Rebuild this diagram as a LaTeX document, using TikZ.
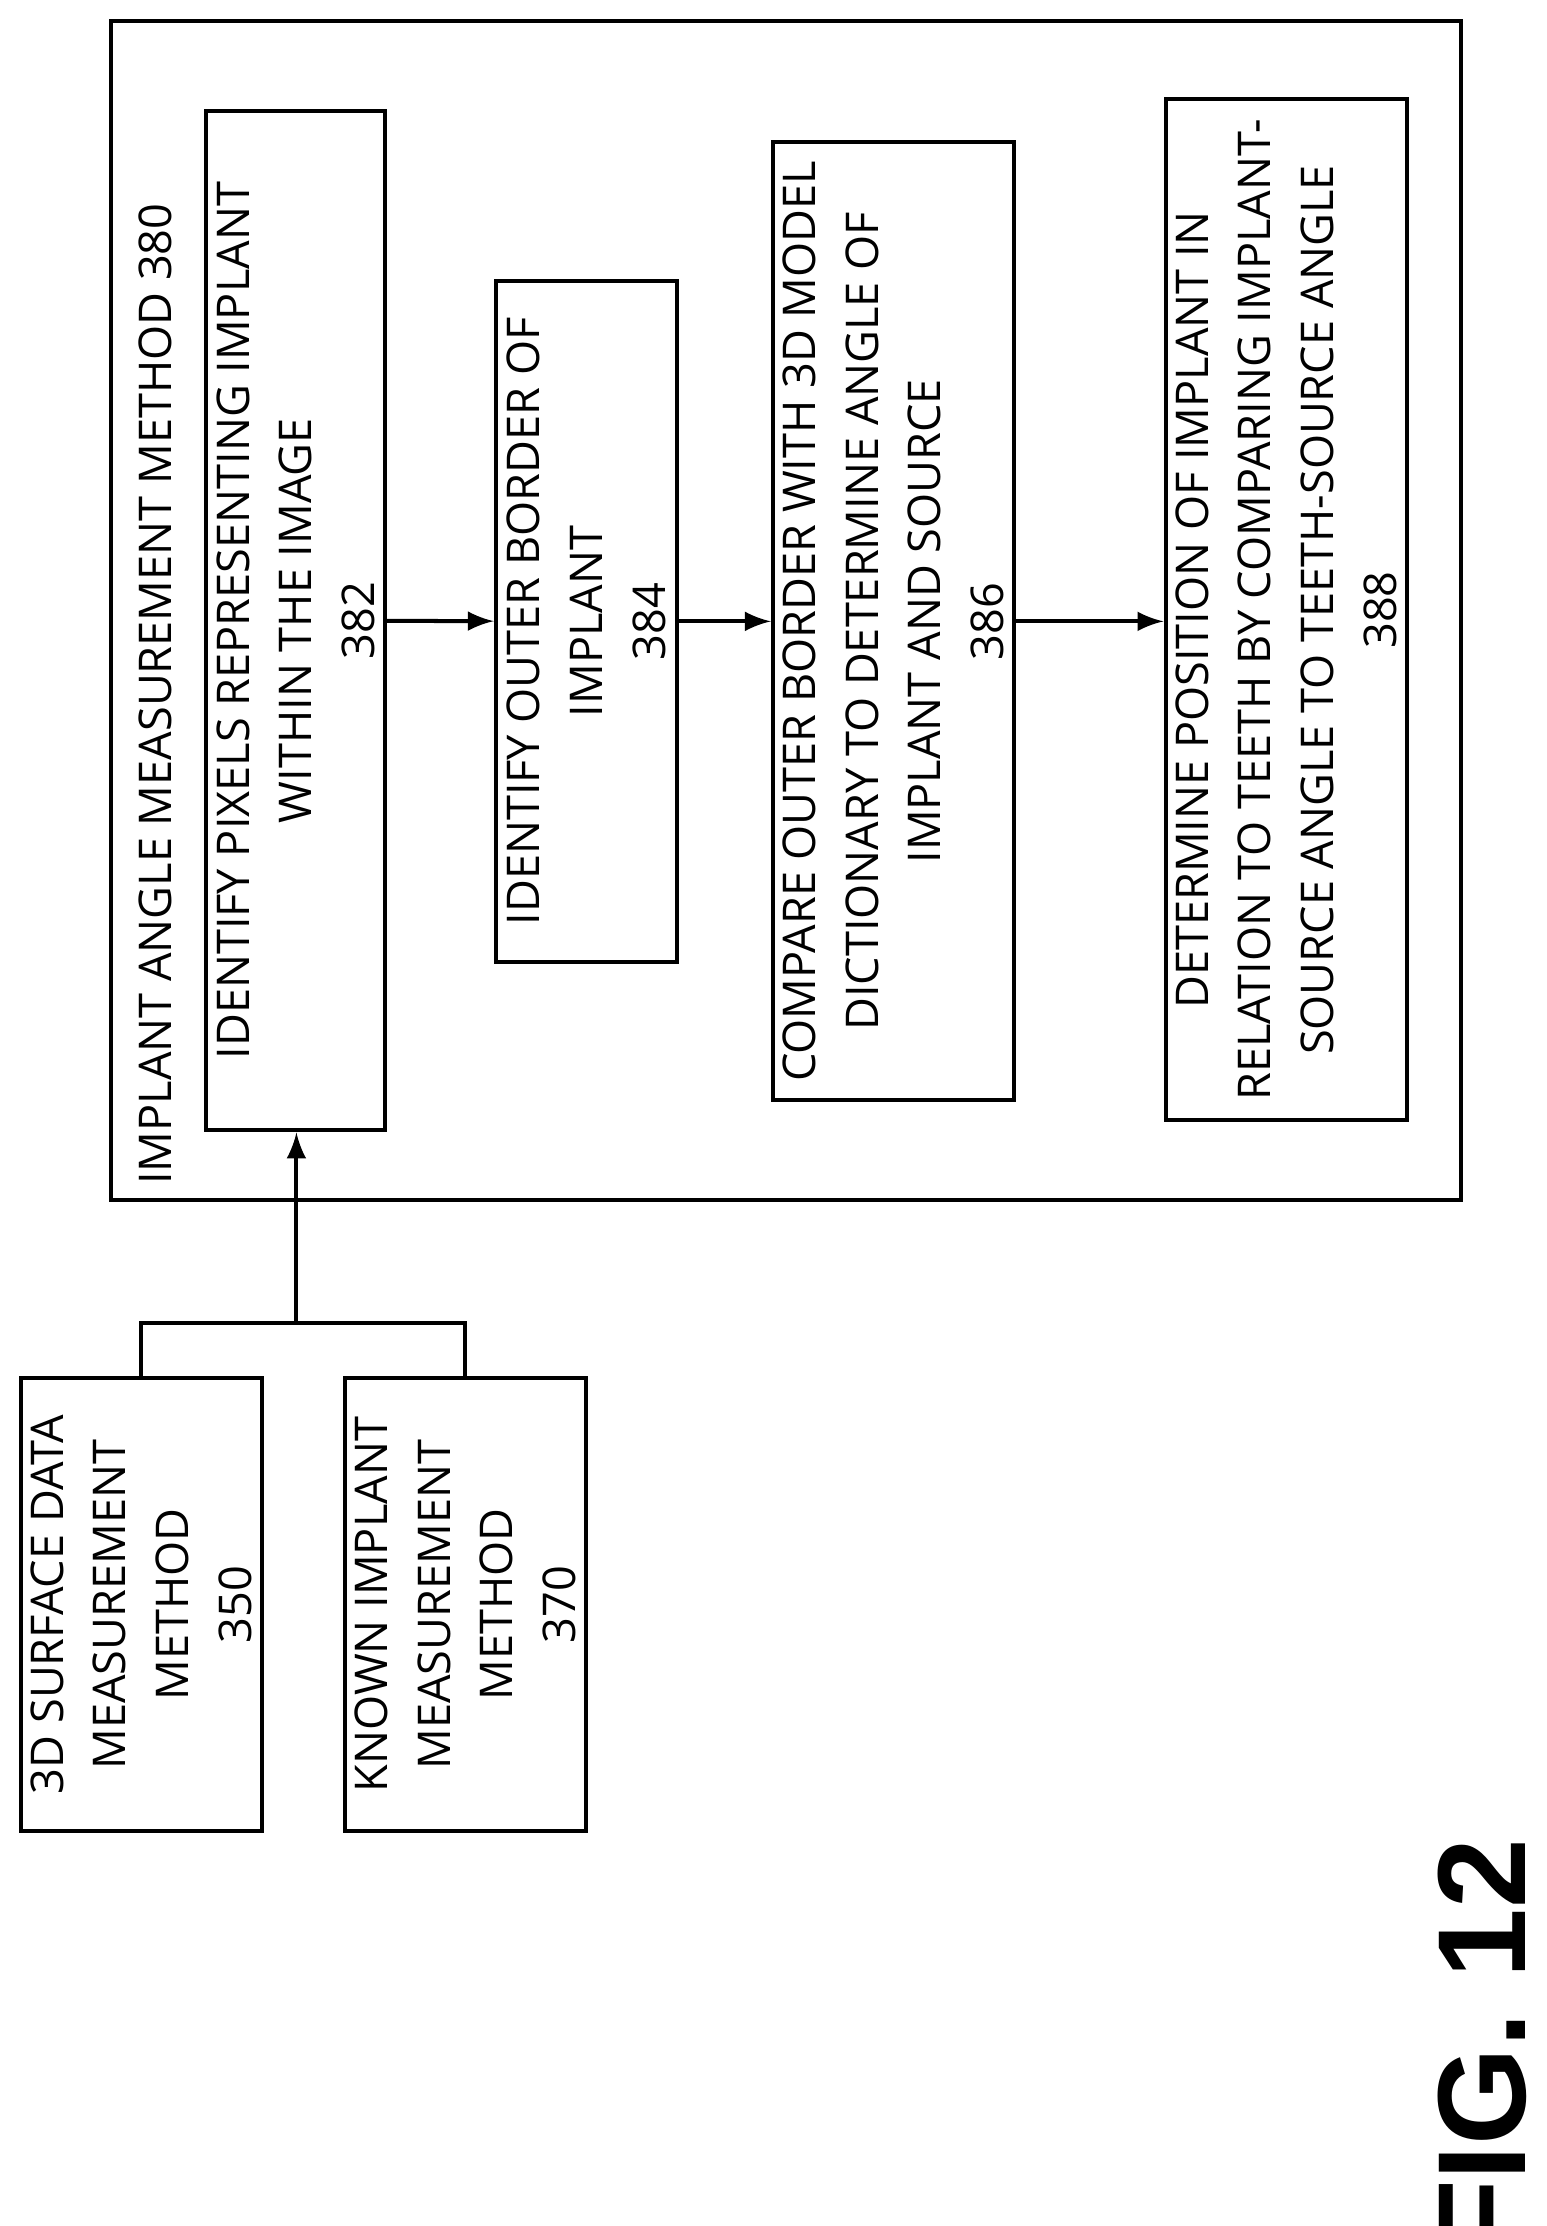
\documentclass[tikz,border=0pt]{standalone}
\usepackage{fontspec}
\setmainfont{Open Sans}
\newfontfamily\figfont{Liberation Sans}
\begin{document}
\begin{tikzpicture}[x=0.01cm,y=-0.01cm,>=latex,
    stepbox/.style={draw,thick,rotate=90,align=center,inner sep=2pt,
        font=\fontsize{9}{12.5}\selectfont},
    flow/.style={thick,->}]
        \useasboundingbox (0,0) rectangle (1085,1562);
        % outer method frame
        \draw[thick] (78,15) rectangle (1025,842);
        \node[rotate=90,anchor=north west,inner sep=0pt,font=\fontsize{9}{12}\selectfont]
            (title) at (97,832) {IMPLANT ANGLE MEASUREMENT METHOD 380};

        \node[stepbox,minimum width=7.15cm,minimum height=1.25cm] (b382) at (207.5,435.5)
            {IDENTIFY PIXELS REPRESENTING IMPLANT\\WITHIN THE IMAGE\\382};
        \node[stepbox,minimum width=4.78cm,minimum height=1.27cm] (b384) at (411.5,436)
            {IDENTIFY OUTER BORDER OF\\IMPLANT\\384};
        \node[stepbox,minimum width=6.72cm,minimum height=1.68cm] (b386) at (627,436)
            {COMPARE OUTER BORDER WITH 3D MODEL\\DICTIONARY TO DETERMINE ANGLE OF\\IMPLANT AND SOURCE\\386};
        \node[stepbox,minimum width=7.16cm,minimum height=1.69cm] (b388) at (902.5,428)
            {DETERMINE POSITION OF IMPLANT IN\\RELATION TO TEETH BY COMPARING IMPLANT-\\SOURCE ANGLE TO TEETH-SOURCE ANGLE\\388};

        \node[stepbox,minimum width=3.18cm,minimum height=1.68cm] (b350) at (99,1126)
            {3D SURFACE DATA\\MEASUREMENT\\METHOD\\350};
        \node[stepbox,minimum width=3.18cm,minimum height=1.69cm] (b370) at (326.5,1126)
            {KNOWN IMPLANT\\MEASUREMENT\\METHOD\\370};

        \draw[flow] (b382) -- (b384);
        \draw[flow] (b384) -- (b386);
        \draw[flow] (b386.south) -- (b388.north |- b386.south);

        % inputs joined into the first step
        \coordinate (join) at (208,928);
        \draw[thick] (b350.east) |- (join) -| (b370.east);
        \draw[flow] (join) -- (join |- b382.west);

        \node[rotate=90,font=\figfont\bfseries\fontsize{25}{25}\selectfont] (fig) at (1040,1437) {FIG. 12};
\end{tikzpicture}
\end{document}
